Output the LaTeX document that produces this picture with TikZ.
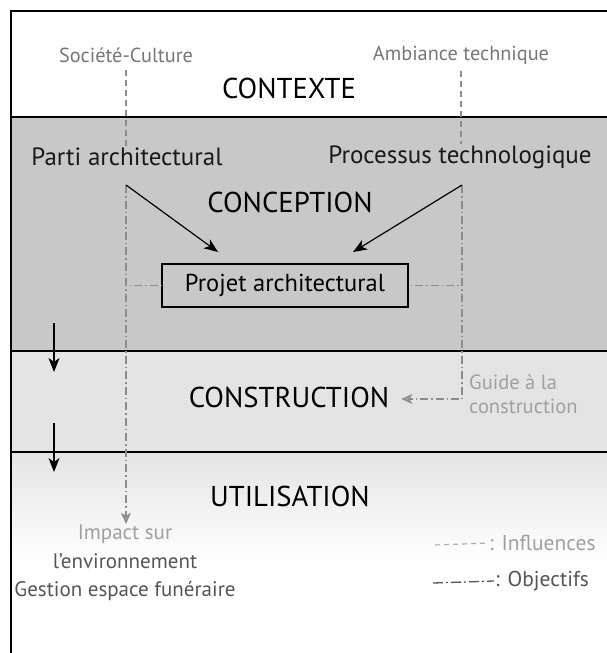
\documentclass[tikz,border=0pt]{standalone}
\usepackage{fontspec}
\setmainfont{PT Sans}
\usetikzlibrary{arrows.meta, positioning}

\definecolor{bandfonce}{HTML}{C8C8C8}
\definecolor{bandclair}{HTML}{E4E4E4}
\definecolor{traitgris}{HTML}{8C8C8C}
\definecolor{textegris}{HTML}{767676}
\definecolor{textepale}{HTML}{A0A0A0}
\definecolor{textesombre}{HTML}{555555}

\begin{document}
\begin{tikzpicture}[x=1pt, y=-1pt,
    phase/.style={font=\fontsize{28.7}{31}\selectfont, inner sep=1pt},
    acteur/.style={font=\fontsize{25}{28}\selectfont, text=black!90, inner sep=1pt},
    source/.style={font=\fontsize{20.3}{23}\selectfont, text=textegris, inner sep=1pt},
    note/.style={font=\fontsize{20.5}{24}\selectfont, inner sep=1pt},
    bloc/.style={draw, line width=1.3pt, minimum width=246pt, minimum height=43pt, font=\fontsize{24.5}{27}\selectfont},
    influence/.style={traitgris, line width=1.2pt, dash pattern=on 6pt off 4pt},
    objectif/.style={traitgris, line width=1.2pt, dash pattern=on 8pt off 3pt on 1.5pt off 3pt},
    fleche/.style={-{Stealth[length=14pt, width=11pt, inset=4pt]}, line width=1.2pt},
    flechegris/.style={-{Stealth[length=11pt, width=10pt, inset=3pt, fill=textepale]}},
    bord/.style={line width=1.3pt}
]
\useasboundingbox (0,0) rectangle (607,653);

% bandes
\fill[bandfonce] (11,117) rectangle (607,351);
\fill[bandclair] (11,351) rectangle (607,452);
\shade[top color=bandclair, bottom color=white] (11,452) rectangle (607,560);
\draw[bord] (11,653) -- (11,11) -- (607,11);
\draw[bord] (11,117) -- (607,117);
\draw[bord] (11,351) -- (607,351);
\draw[bord] (11,452) -- (607,452);

% textes
\node[source] (soc) at (126,55) {Société-Culture};
\node[source] (amb) at (461,55) {Ambiance technique};
\node[phase] (contexte) at (289,88) {CONTEXTE};
\node[acteur] (parti) at (127,157) {Parti architectural};
\node[acteur] (proc) at (460,157) {Processus technologique};
\node[phase] (conception) at (290,202) {CONCEPTION};
\node[bloc] (projet) at (285,285.5) {Projet architectural};
\node[phase] (construction) at (289,397) {CONSTRUCTION};
\node[note, text=textepale, align=left, anchor=west] (guide) at (468,394) {Guide à la\\construction};
\node[phase] (utilisation) at (290,496) {UTILISATION};
\node[note, align=center, font=\fontsize{21}{28.5}\selectfont] (impact) at (125,563)
    {\textcolor{textepale}{Impact sur}\\\textcolor{textesombre}{l’environnement}\\\textcolor{textesombre}{Gestion espace funéraire}};
\node[note, text=textepale, font=\fontsize{21.5}{24}\selectfont, anchor=west] (infl) at (488,543) {: Influences};
\node[note, text=textesombre, font=\fontsize{21.5}{24}\selectfont, anchor=west] (obj) at (494,581) {: Objectifs};

\coordinate (pa) at (126,185);
\coordinate (pb) at (462,185);
\coordinate (pl) at (218,252);
\coordinate (pr) at (353,252);
\coordinate (f1a) at (54,323);
\coordinate (f1b) at (54,372);
\coordinate (f2a) at (54,423);
\coordinate (f2b) at (54,472);
\coordinate (lg1) at (435,545);
\coordinate (lg2) at (433,583);

% influences
\draw[influence, shorten <=6pt] (soc.south) -- (soc.south |- parti.north);
\draw[influence, shorten <=6pt] (amb.south) -- (amb.south |- proc.north);

% objectifs
\draw[objectif] (pa) |- (projet.west);
\draw[objectif] (pb) |- (projet.east);
\draw[objectif, flechegris] (pa) -- (pa |- impact.north);
\draw[objectif, flechegris] (pb) |- ([xshift=11pt, yshift=-2pt]construction.east);

% fleches
\draw[fleche] (pa) -- (pl);
\draw[fleche] (pb) -- (pr);
\draw[fleche] (f1a) -- (f1b);
\draw[fleche] (f2a) -- (f2b);

% legende
\draw[traitgris!70, line width=1.2pt, dash pattern=on 5pt off 4pt] (lg1) -- (infl.west);
\draw[textesombre, line width=1.3pt, dash pattern=on 10pt off 3pt on 2pt off 3pt] (lg2) -- (obj.west);
\end{tikzpicture}
\end{document}
